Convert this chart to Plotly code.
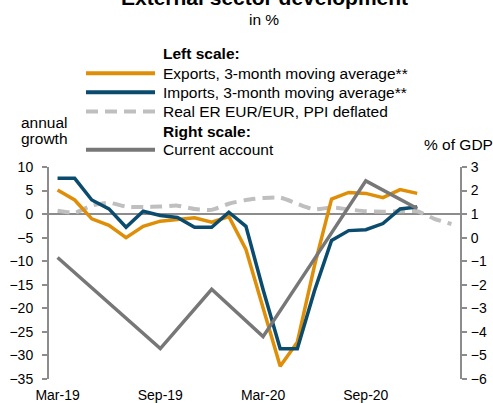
import plotly.graph_objects as go

# Monthly categories, Mar-19 .. Feb-21
months = ["Mar-19", "Apr-19", "May-19", "Jun-19", "Jul-19", "Aug-19", "Sep-19", "Oct-19",
          "Nov-19", "Dec-19", "Jan-20", "Feb-20", "Mar-20", "Apr-20", "May-20", "Jun-20",
          "Jul-20", "Aug-20", "Sep-20", "Oct-20", "Nov-20", "Dec-20", "Jan-21", "Feb-21"]

# Left scale (annual growth, %)
exports_3m = [5.1, 3.0, -1.0, -2.4, -5.0, -2.6, -1.5, -1.2, -0.8, -1.7, -0.5, -7.5,
              -20.0, -32.3, -27.2, -11.0, 3.2, 4.6, 4.4, 3.5, 5.2, 4.4]
imports_3m = [7.6, 7.6, 3.0, 1.1, -2.8, 0.6, -0.3, -0.7, -2.8, -2.8, 0.4, -2.6,
              -16.0, -28.6, -28.6, -16.3, -5.6, -3.5, -3.3, -2.0, 1.1, 1.5]
real_er = [0.7, 0.3, 1.8, 2.4, 1.6, 1.5, 1.6, 1.8, 1.1, 0.9, 2.2, 3.0,
           3.4, 3.5, 2.2, 1.0, 1.4, 1.0, 0.6, 0.5, 0.6, 0.6, -1.0, -2.1]

# Right scale (% of GDP), quarterly
ca_quarters = ["Mar-19", "Jun-19", "Sep-19", "Dec-19", "Mar-20", "Jun-20", "Sep-20", "Dec-20"]
current_account = [-0.84, -2.78, -4.71, -2.19, -4.2, -0.9, 2.41, 1.24]

x_ticks = ["Mar-19", "Sep-19", "Mar-20", "Sep-20"]

ORANGE = "#DF8E08"
BLUE = "#0B4C6E"
LIGHT = "#BFBFBF"
GREY = "#777777"
AXIS = "#8C8C8C"
FONT = "Liberation Sans, Arial, sans-serif"

W, H = 493, 403
L, R = 49, 460          # plot area left/right in px
T, B = 166.7, 379.3     # plot area top/bottom in px


def px_x(x):
    return (x - L) / (R - L)


def px_y(y):
    return (B - y) / (B - T)


fig = go.Figure()

fig.add_trace(go.Scatter(x=months, y=real_er, mode="lines",
                         line=dict(color=LIGHT, width=4, dash="12px,7px", shape="spline", smoothing=0.6),
                         showlegend=False))
fig.add_trace(go.Scatter(x=months[:len(exports_3m)], y=exports_3m, mode="lines",
                         line=dict(color=ORANGE, width=3.5), showlegend=False))
fig.add_trace(go.Scatter(x=months[:len(imports_3m)], y=imports_3m, mode="lines",
                         line=dict(color=BLUE, width=3.5), showlegend=False))
fig.add_trace(go.Scatter(x=ca_quarters, y=current_account, mode="lines", yaxis="y2",
                         line=dict(color=GREY, width=3.5), showlegend=False))

tick_font = dict(family=FONT, size=14, color="#000000")

fig.update_layout(
    template="none",
    width=W, height=H,
    margin=dict(l=L, r=W - R, t=T, b=H - B, pad=0),
    paper_bgcolor="white", plot_bgcolor="white",
    showlegend=False,
    xaxis=dict(type="category", categoryorder="array", categoryarray=months,
               range=[-0.5, len(months) - 0.5], tickmode="array", tickvals=x_ticks,
               ticks="", showline=False, showgrid=False, zeroline=False,
               tickfont=tick_font, automargin=False, ticklabelstandoff=6),
    yaxis=dict(range=[-35, 10], dtick=5, tick0=0, showgrid=False,
               showline=True, linecolor=AXIS, linewidth=2,
               ticks="outside", ticklen=5, tickwidth=2, tickcolor=AXIS,
               zeroline=True, zerolinecolor=AXIS, zerolinewidth=1.5,
               tickfont=tick_font, automargin=False, ticklabelstandoff=6),
    yaxis2=dict(range=[-6, 3], dtick=1, tick0=0, overlaying="y", side="right",
                showgrid=False, zeroline=False,
                showline=True, linecolor=AXIS, linewidth=2,
                ticks="outside", ticklen=5, tickwidth=2, tickcolor=AXIS,
                tickfont=tick_font, automargin=False, ticklabelstandoff=1),
)

# Legend (drawn by hand: headings plus line samples)
legend_rows = [
    ("<b>Left scale:</b>", 53.3, None),
    ("Exports, 3-month moving average**", 72.7, dict(color=ORANGE, width=4)),
    ("Imports, 3-month moving average**", 91.7, dict(color=BLUE, width=4)),
    ("Real ER EUR/EUR, PPI deflated", 111.0, dict(color=LIGHT, width=4, dash="12px,7px")),
    ("<b>Right scale:</b>", 130.7, None),
    ("Current account", 149.5, dict(color=GREY, width=4)),
]
annotations = []
shapes = []
for text, y, line in legend_rows:
    annotations.append(dict(text=text, x=px_x(161), y=px_y(y), xref="paper", yref="paper",
                            xanchor="left", yanchor="middle", showarrow=False,
                            font=dict(family=FONT, size=15.5, color="#000000")))
    if line:
        shapes.append(dict(type="line", xref="paper", yref="paper",
                           x0=px_x(86), x1=px_x(155), y0=px_y(y), y1=px_y(y), line=line))

other_text = [
    ("<b>External sector development</b>", 264, -3.0, 21, "center"),
    ("in %", 264, 18.3, 15.5, "center"),
    ("annual", 44, 122.5, 15.5, "center"),
    ("growth", 44, 138.5, 15.5, "center"),
    ("% of GDP", 458, 143.8, 15.5, "center"),
]
for text, x, y, size, anchor in other_text:
    annotations.append(dict(text=text, x=px_x(x), y=px_y(y), xref="paper", yref="paper",
                            xanchor=anchor, yanchor="middle", showarrow=False,
                            font=dict(family=FONT, size=size, color="#000000")))

fig.update_layout(annotations=annotations, shapes=shapes)

fig.write_html("out.html")
